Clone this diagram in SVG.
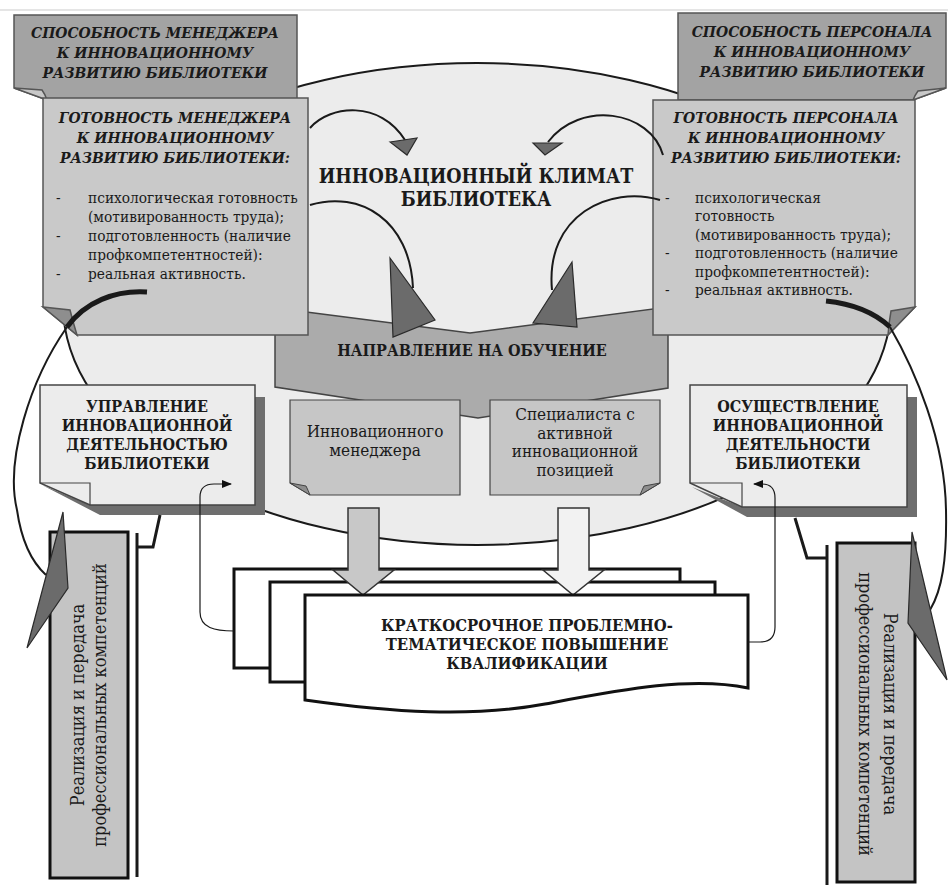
<svg xmlns="http://www.w3.org/2000/svg" width="948" height="885" viewBox="0 0 948 885">
<defs>
<marker id="ah" viewBox="0 0 10 10" refX="9" refY="5" markerWidth="10" markerHeight="10" markerUnits="userSpaceOnUse" orient="auto"><path d="M0,1 L10,5 L0,9 Z" fill="#111"/></marker>
</defs>
<style>
text{fill:#1a1a1a;font-family:'DejaVu Serif Condensed','DejaVu Serif',serif;font-stretch:condensed}
.ti{font-style:italic;font-weight:bold;font-size:15.5px}
.tb{font-weight:bold;font-size:16px}
.tl{font-size:15.3px}
.tm{font-size:17px}
.tv{font-size:18px}
.c{text-anchor:middle}
.ln{fill:none;stroke:#1a1a1a;stroke-width:2}
.tri{fill:#6b6b6b;stroke:#2a2a2a;stroke-width:1.2}
.thick{fill:none;stroke:#1a1a1a;stroke-width:3}
.edge{stroke:#555;stroke-width:1.5}
</style>
<rect width="948" height="885" fill="#ffffff"/>
<path d="M0,10 H948" stroke="#dddddd" stroke-width="1.5"/>

<g id="climate">
<ellipse cx="477" cy="304" rx="414" ry="241" fill="#ececec" stroke="#1a1a1a" stroke-width="2"/>
<text class="c" x="476" y="183" font-size="19.5" font-weight="bold">ИННОВАЦИОННЫЙ КЛИМАТ</text>
<text class="c" x="476" y="206" font-size="19.5" font-weight="bold">БИБЛИОТЕКА</text>
</g>

<g id="direction">
<path d="M275,308 L470,333 L668,307 V388 L478,418 L275,387 Z" fill="#ababab" stroke="#444" stroke-width="1.5"/>
<text class="c" x="472" y="356" font-size="16" font-weight="bold">НАПРАВЛЕНИЕ НА ОБУЧЕНИЕ</text>
</g>

<g id="ability-manager">
<path d="M14,15 H297 V100 H47 L14,88 Z" fill="#a3a3a3" class="edge"/>
<path d="M14,88 L42,90 Q45,94 47,100 Z" fill="#c8c8c8" class="edge"/>
<text class="ti c" x="155" y="38">СПОСОБНОСТЬ МЕНЕДЖЕРА</text>
<text class="ti c" x="155" y="58">К ИННОВАЦИОННОМУ</text>
<text class="ti c" x="155" y="78">РАЗВИТИЮ БИБЛИОТЕКИ</text>
</g>

<g id="ability-staff">
<path d="M678,13 H946 V88 L913,100 H678 Z" fill="#a3a3a3" class="edge"/>
<path d="M946,88 L918,91 Q915,95 913,100 Z" fill="#c8c8c8" class="edge"/>
<text class="ti c" x="812" y="37">СПОСОБНОСТЬ ПЕРСОНАЛА</text>
<text class="ti c" x="812" y="57">К ИННОВАЦИОННОМУ</text>
<text class="ti c" x="812" y="77">РАЗВИТИЮ БИБЛИОТЕКИ</text>
</g>

<g id="readiness-manager">
<path d="M43,98 H308 V335 H77 L43,307 Z" fill="#c9c9c9" class="edge"/>
<path d="M43,307 L70,310 Q73,322 77,335 Z" fill="#8e8e8e" class="edge"/>
<text class="ti c" x="175" y="123">ГОТОВНОСТЬ МЕНЕДЖЕРА</text>
<text class="ti c" x="175" y="143">К ИННОВАЦИОННОМУ</text>
<text class="ti c" x="175" y="163">РАЗВИТИЮ БИБЛИОТЕКИ:</text>
<text class="tl" x="56" y="203">-</text>
<text class="tl" x="88" y="203">психологическая готовность</text>
<text class="tl" x="88" y="222">(мотивированность труда);</text>
<text class="tl" x="56" y="241">-</text>
<text class="tl" x="88" y="241">подготовленность (наличие</text>
<text class="tl" x="88" y="260">профкомпетентностей):</text>
<text class="tl" x="56" y="279">-</text>
<text class="tl" x="88" y="279">реальная активность.</text>
</g>

<g id="readiness-staff">
<path d="M653,100 H915 V307 L888,335 H653 Z" fill="#c9c9c9" class="edge"/>
<path d="M915,307 L891,311 Q889,322 888,335 Z" fill="#8e8e8e" class="edge"/>
<text class="ti c" x="786" y="123">ГОТОВНОСТЬ ПЕРСОНАЛА</text>
<text class="ti c" x="786" y="143">К ИННОВАЦИОННОМУ</text>
<text class="ti c" x="786" y="163">РАЗВИТИЮ БИБЛИОТЕКИ:</text>
<text class="tl" x="665" y="203">-</text>
<text class="tl" x="695" y="203">психологическая</text>
<text class="tl" x="695" y="221">готовность</text>
<text class="tl" x="695" y="240">(мотивированность труда);</text>
<text class="tl" x="665" y="258">-</text>
<text class="tl" x="695" y="258">подготовленность (наличие</text>
<text class="tl" x="695" y="277">профкомпетентностей):</text>
<text class="tl" x="665" y="295">-</text>
<text class="tl" x="695" y="295">реальная активность.</text>
</g>

<g id="innovation-manager">
<path d="M290,400 H460 V495 H310 L290,483 Z" fill="#c6c6c6" stroke="#444" stroke-width="1.2"/>
<path d="M290,483 L306,486 Q308,490 310,495 Z" fill="#8e8e8e" stroke="#444"/>
<text class="tm c" x="375" y="437">Инновационного</text>
<text class="tm c" x="375" y="456">менеджера</text>
</g>

<g id="specialist">
<path d="M490,400 H660 V483 L640,495 H490 Z" fill="#c6c6c6" stroke="#444" stroke-width="1.2"/>
<path d="M660,483 L644,486 Q642,490 640,495 Z" fill="#8e8e8e" stroke="#444"/>
<text class="tm c" x="575" y="420">Специалиста с</text>
<text class="tm c" x="575" y="438.5">активной</text>
<text class="tm c" x="575" y="457">инновационной</text>
<text class="tm c" x="575" y="475.5">позицией</text>
</g>

<g id="management">
<path d="M255,397 H265 V515 H100 L42,485 L90,505 H255 Z" fill="#6e6e6e"/>
<path d="M40,385 H255 V505 H90 L40,483 Z" fill="#ececec" stroke="#444" stroke-width="1.5"/>
<path d="M40,483 H90 V505" fill="none" stroke="#444" stroke-width="1.2"/>
<text class="tb c" x="147" y="412">УПРАВЛЕНИЕ</text>
<text class="tb c" x="147" y="431">ИННОВАЦИОННОЙ</text>
<text class="tb c" x="147" y="450">ДЕЯТЕЛЬНОСТЬЮ</text>
<text class="tb c" x="147" y="469">БИБЛИОТЕКИ</text>
</g>

<g id="implementation">
<path d="M907,397 H917 V517 H747 L692,487 L742,507 H907 Z" fill="#6e6e6e"/>
<path d="M690,385 H907 V507 H742 L690,483 Z" fill="#ececec" stroke="#444" stroke-width="1.5"/>
<path d="M690,483 H742 V507" fill="none" stroke="#444" stroke-width="1.2"/>
<text class="tb c" x="798" y="412">ОСУЩЕСТВЛЕНИЕ</text>
<text class="tb c" x="798" y="431">ИННОВАЦИОННОЙ</text>
<text class="tb c" x="798" y="450">ДЕЯТЕЛЬНОСТИ</text>
<text class="tb c" x="798" y="469">БИБЛИОТЕКИ</text>
</g>

<g id="training">
<rect x="234" y="569" width="446" height="99" fill="#ffffff" stroke="#111" stroke-width="3"/>
<rect x="270" y="582" width="445" height="100" fill="#ffffff" stroke="#111" stroke-width="3"/>
</g>

<g id="block-arrows">
<path d="M348,508 H379 V570 H394 L363,595 L333,570 H348 Z" fill="#c8c8c8" stroke="#333" stroke-width="1.5"/>
<path d="M558,508 H589 V570 H604 L573,595 L543,570 H558 Z" fill="#f2f2f2" stroke="#333" stroke-width="1.5"/>
</g>

<g id="training-front">
<path d="M305,595 H748 V688 C690,676 620,690 545,704 C470,718 390,712 305,700 Z" fill="#ffffff" stroke="#111" stroke-width="3"/>
<text class="c" x="527" y="631" font-size="16.5" font-weight="bold">КРАТКОСРОЧНОЕ ПРОБЛЕМНО-</text>
<text class="c" x="527" y="650" font-size="16.5" font-weight="bold">ТЕМАТИЧЕСКОЕ ПОВЫШЕНИЕ</text>
<text class="c" x="527" y="669" font-size="16.5" font-weight="bold">КВАЛИФИКАЦИИ</text>
</g>

<g id="competence-left">
<rect x="50" y="532" width="78" height="346" fill="#c4c4c4" stroke="#111" stroke-width="3"/>
<text class="tv c" transform="translate(84,705) rotate(-90)">Реализация и передача</text>
<text class="tv c" transform="translate(106,705) rotate(-90)">профессиональных компетенций</text>
</g>

<g id="competence-right">
<rect x="837" y="543" width="78" height="339" fill="#c4c4c4" stroke="#111" stroke-width="3"/>
<text class="tv c" transform="translate(884,714) rotate(90)">Реализация и передача</text>
<text class="tv c" transform="translate(859,714) rotate(90)">профессиональных компетенций</text>
</g>

<g id="connectors">
<path class="ln" d="M310,128 C330,105 380,100 405,140"/>
<polygon class="tri" points="390,142 417,138 407,155"/>
<path class="ln" d="M663,155 C650,110 580,100 548,142"/>
<polygon class="tri" points="533,143 562,143 545,155"/>
<path class="ln" d="M310,205 C360,190 410,220 413,288"/>
<polygon class="tri" points="390,258 435,320 393,337"/>
<path class="ln" d="M660,200 C610,185 545,215 552,290"/>
<polygon class="tri" points="572,262 577,327 533,323"/>

<path d="M147,292 C115,290 85,302 67,327" fill="none" stroke="#1a1a1a" stroke-width="5"/>
<path class="ln" d="M67,327 C30,380 5,460 17,510 C22,545 35,565 46,575"/>
<polygon class="tri" points="63,512 68,588 27,648"/>
<path d="M826,301 C855,304 875,313 890,327" fill="none" stroke="#1a1a1a" stroke-width="5"/>
<path class="ln" d="M890,327 C915,370 945,440 946,510 C947,560 942,590 930,610"/>
<polygon class="tri" points="912,532 908,623 947,680"/>

<path d="M234,631 C215,631 200,628 200,612 V497 Q200,484 214,484 H231" fill="none" stroke="#1a1a1a" stroke-width="1.2" marker-end="url(#ah)"/>
<path d="M748,642 H760 Q775,642 775,627 V498 Q775,484 762,484 H754" fill="none" stroke="#1a1a1a" stroke-width="1.2" marker-end="url(#ah)"/>

<path class="thick" d="M137,533 V877"/>
<path class="thick" d="M160,515 L153,547 H137"/>
<path class="thick" d="M827,545 V885"/>
<path class="thick" d="M795,518 L807,558 H827"/>
</g>
</svg>
